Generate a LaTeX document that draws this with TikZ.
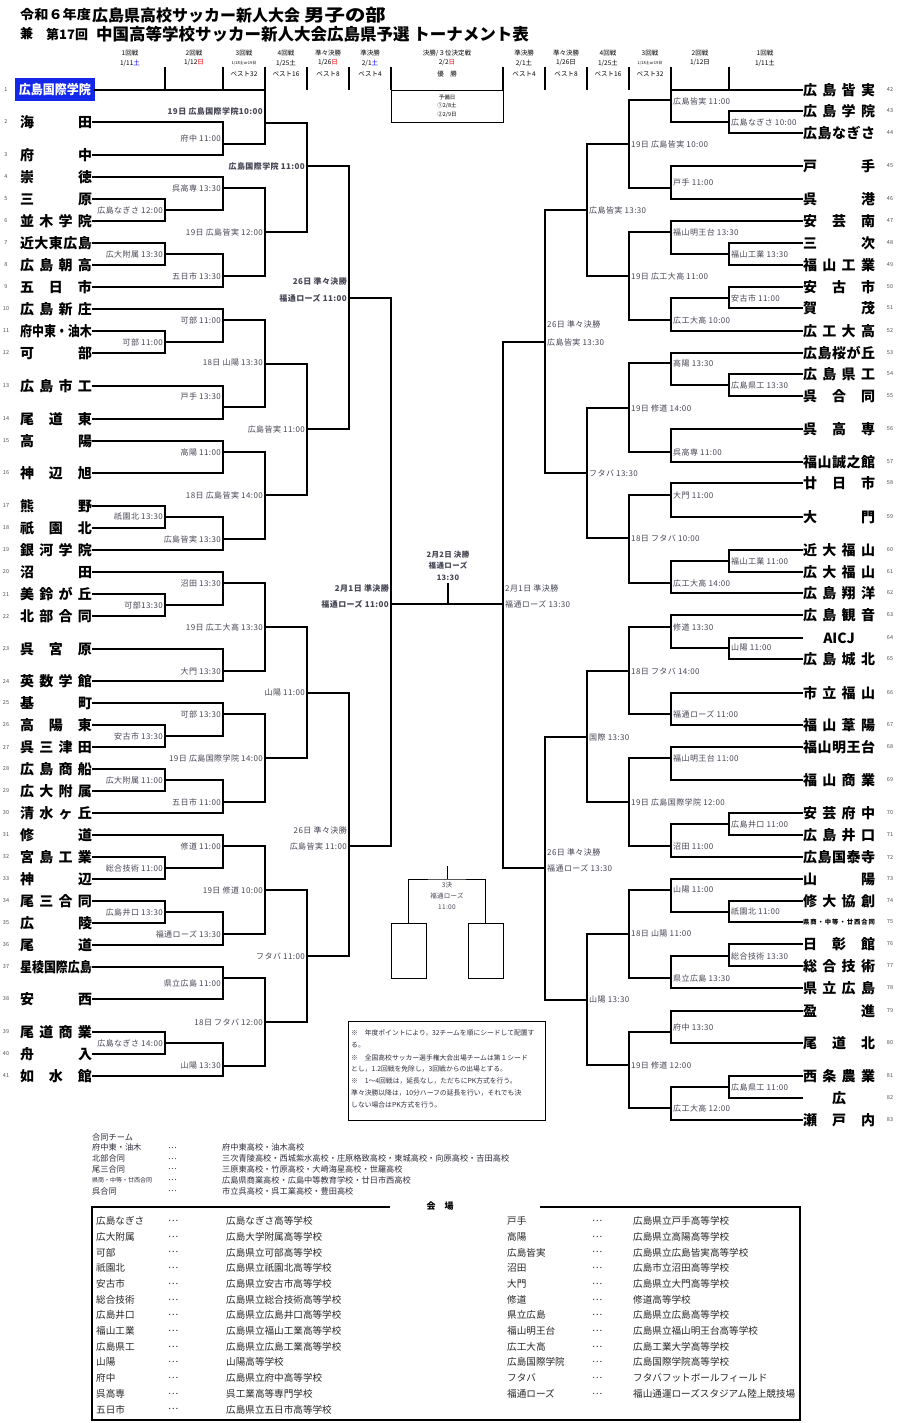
\documentclass[tikz,border=0pt]{standalone}
\usepackage{fontspec}
\usepackage{graphicx}
\setmainfont{Noto Sans CJK JP}
\newfontfamily\labf[LetterSpace=5]{Noto Sans CJK JP}
\definecolor{seedblue}{RGB}{20,40,235}
\definecolor{labgray}{RGB}{70,70,85}
\definecolor{numgray}{RGB}{80,80,90}
\definecolor{txtgray}{RGB}{45,45,60}
\makeatletter
\def\spreadit#1{\spr@a#1\relax}
\def\spr@a#1{#1\spr@b}
\def\spr@b#1{\ifx\relax#1\else\hfill#1\expandafter\spr@b\fi}
\makeatother
\newcommand\tname[1]{\sbox0{#1}\ifdim\wd0>72pt\relax\resizebox{72pt}{\height}{#1}\else\makebox[72pt][s]{\expandafter\spreadit\expandafter{#1}}\fi}
\newcommand\tnfont{\bfseries\fontsize{14}{14}\selectfont}
\tikzset{
  br/.style={line width=1.3pt, line join=miter, line cap=rect},
  lab/.style={font=\labf\fontsize{8}{9}\selectfont, text=labgray, inner sep=0.5pt},
  labL/.style={lab, anchor=east},
  labR/.style={lab, anchor=west},
  tnL/.style={anchor=east, inner xsep=1pt, inner ysep=0pt, outer sep=0pt, font=\tnfont},
  tnR/.style={anchor=west, inner xsep=1pt, inner ysep=0pt, outer sep=0pt, font=\tnfont},
  num/.style={font=\fontsize{5.5}{6}\selectfont, text=numgray, inner sep=0pt},
  hdr/.style={font=\fontsize{6.5}{7}\selectfont, inner sep=0pt},
  hline/.style={line width=1.2pt},
  ftx/.style={font=\fontsize{8.2}{9}\selectfont, text=txtgray, inner sep=0pt, anchor=west},
  vtx/.style={font=\fontsize{9.6}{10}\selectfont, text=black!85, inner sep=0pt, anchor=west},
  ntx/.style={font=\fontsize{6.8}{7}\selectfont, text=txtgray, inner sep=0pt, anchor=west},
}
% match: name, x, yout, input A, input B, label, label y
\newcommand\mL[7]{\coordinate (#1) at (#2,#3);
  \draw[br] (#4) -- (#4 -| #1) -- (#5 -| #1) -- (#5);
  \node[labL] (#1l) at ({#2-1.5},#7) {#6};}
\newcommand\mR[7]{\coordinate (#1) at (#2,#3);
  \draw[br] (#4) -- (#4 -| #1) -- (#5 -| #1) -- (#5);
  \node[labR] (#1l) at ({#2+1.5},#7) {#6};}
\begin{document}
\begin{tikzpicture}[x=1pt,y=-1pt]
\useasboundingbox (0,0) rectangle (897,1423);
\fill[white] (0,0) rectangle (897,1423);

% ---- title ----
\node[anchor=west, inner sep=0, font=\bfseries\fontsize{13}{13}\selectfont] (ti1a) at (20,15) {\scalebox{1.09}[1]{令和６年度}};
\node[anchor=west, inner sep=0, font=\bfseries\fontsize{16}{16}\selectfont] (ti1b) at (92,15) {広島県高校サッカー新人大会};
\node[anchor=west, inner sep=0, font=\bfseries\fontsize{17}{17}\selectfont] (ti1c) at (304,15) {\scalebox{1.2}[1]{男子の部}};
\node[anchor=west, inner sep=0, font=\bfseries\fontsize{13}{13}\selectfont] (ti2a) at (20,34) {兼};
\node[anchor=west, inner sep=0, font=\bfseries\fontsize{13}{13}\selectfont] (ti2b) at (46,34) {第17回};
\node[anchor=west, inner sep=0, font=\bfseries\fontsize{16.5}{16.5}\selectfont] (ti2c) at (96,34) {中国高等学校サッカー新人大会広島県予選 トーナメント表};

% ---- column headers ----
\node[hdr] (h1a) at (130,53) {1回戦};
\node[hdr] (h1b) at (130,63) {1/11\textcolor{blue}{土}};
\node[hdr] (h2a) at (194,53) {2回戦};
\node[hdr] (h2b) at (194,63) {1/12\textcolor{red}{日}};
\node[hdr] (h3a) at (244,53) {3回戦};
\node[hdr, font=\fontsize{4}{4}\selectfont] (h3b) at (244,63) {1/18土or19日};
\node[hdr] (h3c) at (244,74) {ベスト32};
\node[hdr] (h4a) at (286,53) {4回戦};
\node[hdr] (h4b) at (286,63) {1/25土};
\node[hdr] (h4c) at (286,74) {ベスト16};
\node[hdr] (h5a) at (328,53) {準々決勝};
\node[hdr] (h5b) at (328,63) {1/26\textcolor{red}{日}};
\node[hdr] (h5c) at (328,74) {ベスト8};
\node[hdr] (h6a) at (370,53) {準決勝};
\node[hdr] (h6b) at (370,63) {2/1\textcolor{blue}{土}};
\node[hdr] (h6c) at (370,74) {ベスト4};
\node[hdr] (h7a) at (447,53) {決勝/３位決定戦};
\node[hdr] (h7b) at (447,63) {2/2\textcolor{red}{日}};
\node[hdr] (h7c) at (447,74) {優　勝};
\node[hdr] (h8a) at (524,53) {準決勝};
\node[hdr] (h8b) at (524,63) {2/1土};
\node[hdr] (h8c) at (524,74) {ベスト4};
\node[hdr] (h9a) at (566,53) {準々決勝};
\node[hdr] (h9b) at (566,63) {1/26日};
\node[hdr] (h9c) at (566,74) {ベスト8};
\node[hdr] (h10a) at (608,53) {4回戦};
\node[hdr] (h10b) at (608,63) {1/25土};
\node[hdr] (h10c) at (608,74) {ベスト16};
\node[hdr] (h11a) at (650,53) {3回戦};
\node[hdr, font=\fontsize{4}{4}\selectfont] (h11b) at (650,63) {1/18土or19日};
\node[hdr] (h11c) at (650,74) {ベスト32};
\node[hdr] (h12a) at (700,53) {2回戦};
\node[hdr] (h12b) at (700,63) {1/12日};
\node[hdr] (h13a) at (765,53) {1回戦};
\node[hdr] (h13b) at (765,63) {1/11土};
\foreach \xx in {165,223,265,307,349,391,503,545,587,629,671,729}
  \draw[hline] (\xx,67) -- (\xx,90);
% reserve-day box
\node[draw, line width=1.2pt, minimum width=112pt, minimum height=32pt, inner sep=0, anchor=north west] (yobi) at (391,90) {};
\node[hdr, font=\fontsize{5.5}{6}\selectfont] (yb1) at (447,97) {予備日};
\node[hdr, font=\fontsize{5.5}{6}\selectfont] (yb2) at (447,106) {①2/8土};
\node[hdr, font=\fontsize{5.5}{6}\selectfont] (yb3) at (447,115) {②2/9日};

% ---- teams, left ----
\node[fill=seedblue, text=white, anchor=east, minimum width=80pt, minimum height=23pt, inner sep=0pt, font=\bfseries\fontsize{13}{13}\selectfont] (t1) at (95,90) {\resizebox{72pt}{\height}{広島国際学院}};
\node[num] (n1) at (6,90) {1};
\foreach \k/\yy/\nm in {2/122/海田, 3/155/府中, 4/177/崇徳, 5/199/三原, 6/221/並木学院, 7/243/近大東広島, 8/265/広島朝高, 9/287/五日市, 10/309/広島新庄, 11/331/府中東・油木, 12/353/可部, 13/386/広島市工, 14/419/尾道東, 15/441/高陽, 16/473/神辺旭, 17/506/熊野, 18/528/祇園北, 19/550/銀河学院, 20/572/沼田, 21/594/美鈴が丘, 22/616/北部合同, 23/649/呉宮原, 24/681/英数学館, 25/703/基町, 26/725/高陽東, 27/747/呉三津田, 28/769/広島商船, 29/791/広大附属, 30/813/清水ヶ丘, 31/835/修道, 32/857/宮島工業, 33/879/神辺, 34/901/尾三合同, 35/923/広陵, 36/945/尾道, 37/967/星稜国際広島, 38/999/安西, 39/1032/尾道商業, 40/1054/舟入, 41/1076/如水館}
{
  \node[tnL] (t\k) at (93,\yy) {\tname{\nm}};
  \node[num] (n\k) at (6,\yy) {\k};
}
% ---- teams, right ----
\foreach \k/\yy/\nm in {42/90/広島皆実, 43/111/広島学院, 44/133/広島なぎさ, 45/166/戸手, 46/199/呉港, 47/221/安芸南, 48/243/三次, 49/265/福山工業, 50/287/安古市, 51/308/賀茂, 52/331/広工大高, 53/353/広島桜が丘, 54/374/広島県工, 55/396/呉合同, 56/429/呉高専, 57/462/福山誠之館, 58/483/廿日市, 59/517/大門, 60/550/近大福山, 61/572/広大福山, 62/593/広島翔洋, 63/615/広島観音, 65/659/広島城北, 66/693/市立福山, 67/725/福山葦陽, 68/747/福山明王台, 69/780/福山商業, 70/813/安芸府中, 71/835/広島井口, 72/857/広島国泰寺, 73/879/山陽, 74/901/修大協創, 76/944/日彰館, 77/966/総合技術, 78/988/県立広島, 79/1011/盈進, 80/1043/尾道北, 81/1076/西条農業, 83/1120/瀬戸内}
{
  \node[tnR] (t\k) at (802,\yy) {\tname{\nm}};
  \node[num] (n\k) at (890,\yy) {\k};
}
\node[tnR] (t64) at (802,638) {\makebox[72pt]{AICJ}};
\node[num] (n64) at (890,638) {64};
\node[tnR, font=\bfseries\fontsize{6.3}{7}\selectfont] (t75) at (802,922) {\makebox[72pt][s]{\spreadit{県商・中等・廿西合同}}};
\node[num] (n75) at (890,922) {75};
\node[tnR] (t82) at (802,1098) {\makebox[72pt]{広}};
\node[num] (n82) at (890,1098) {82};

% ---- left bracket ----
\mL{L1a}{165}{210}{t5.east}{t6.east}{広島なぎさ 12:00}{210}
\mL{L1b}{165}{254}{t7.east}{t8.east}{広大附属 13:30}{254}
\mL{L1c}{165}{342}{t11.east}{t12.east}{可部 11:00}{342}
\mL{L1d}{165}{517}{t17.east}{t18.east}{祇園北 13:30}{517}
\mL{L1e}{165}{605}{t21.east}{t22.east}{可部13:30}{605}
\mL{L1f}{165}{736}{t26.east}{t27.east}{安古市 13:30}{736}
\mL{L1g}{165}{780}{t28.east}{t29.east}{広大附属 11:00}{780}
\mL{L1h}{165}{868}{t32.east}{t33.east}{総合技術 11:00}{868}
\mL{L1i}{165}{912}{t34.east}{t35.east}{広島井口 13:30}{912}
\mL{L1j}{165}{1043}{t39.east}{t40.east}{広島なぎさ 14:00}{1043}

\mL{L2a}{223}{144}{t2.east}{t3.east}{府中 11:00}{138}
\mL{L2b}{223}{188}{t4.east}{L1a}{呉高専 13:30}{188}
\mL{L2c}{223}{276}{L1b}{t9.east}{五日市 13:30}{276}
\mL{L2d}{223}{320}{t10.east}{L1c}{可部 11:00}{320}
\mL{L2e}{223}{407}{t13.east}{t14.east}{戸手 13:30}{396}
\mL{L2f}{223}{452}{t15.east}{t16.east}{高陽 11:00}{452}
\mL{L2g}{223}{539}{L1d}{t19.east}{広島皆実 13:30}{539}
\mL{L2h}{223}{583}{t20.east}{L1e}{沼田 13:30}{583}
\mL{L2i}{223}{671}{t23.east}{t24.east}{大門 13:30}{671}
\mL{L2j}{223}{714}{t25.east}{L1f}{可部 13:30}{714}
\mL{L2k}{223}{802}{L1g}{t30.east}{五日市 11:00}{802}
\mL{L2l}{223}{846}{t31.east}{L1h}{修道 11:00}{846}
\mL{L2m}{223}{934}{L1i}{t36.east}{福通ローズ 13:30}{934}
\mL{L2n}{223}{978}{t37.east}{t38.east}{県立広島 11:00}{983}
\mL{L2o}{223}{1066}{L1j}{t41.east}{山陽 13:30}{1066}

\mL{L3a}{265}{123}{t1.east}{L2a}{\bfseries 19日 広島国際学院10:00}{111}
\mL{L3b}{265}{232}{L2b}{L2c}{19日 広島皆実 12:00}{232}
\mL{L3c}{265}{364}{L2d}{L2e}{18日 山陽 13:30}{363}
\mL{L3d}{265}{495}{L2f}{L2g}{18日 広島皆実 14:00}{495}
\mL{L3e}{265}{627}{L2h}{L2i}{19日 広工大高 13:30}{627}
\mL{L3f}{265}{758}{L2j}{L2k}{19日 広島国際学院 14:00}{758}
\mL{L3g}{265}{890}{L2l}{L2m}{19日 修道 10:00}{890}
\mL{L3h}{265}{1022}{L2n}{L2o}{18日 フタバ 12:00}{1022}

\mL{L4a}{307}{166}{L3a}{L3b}{\bfseries 広島国際学院 11:00}{166}
\mL{L4b}{307}{429}{L3c}{L3d}{広島皆実 11:00}{429}
\mL{L4c}{307}{693}{L3e}{L3f}{山陽 11:00}{693}
\mL{L4d}{307}{956}{L3g}{L3h}{フタバ 11:00}{956}

\mL{L5a}{349}{298}{L4a}{L4b}{\bfseries 福通ローズ 11:00}{298}
\node[labL] (L5at) at (347.5,281) {\bfseries 26日 準々決勝};
\mL{L5b}{349}{846}{L4c}{L4d}{広島皆実 11:00}{846}
\node[labL] (L5bt) at (347.5,830) {26日 準々決勝};

\mL{L6}{391}{604}{L5a}{L5b}{\bfseries 福通ローズ 11:00}{604}
\node[labL] (L6t) at (389.5,588) {\bfseries 2月1日 準決勝};

% ---- right bracket ----
\mR{R1a}{729}{122}{t43.west}{t44.west}{広島なぎさ 10:00}{122}
\mR{R1b}{729}{254}{t48.west}{t49.west}{福山工業 13:30}{254}
\mR{R1c}{729}{298}{t50.west}{t51.west}{安古市 11:00}{298}
\mR{R1d}{729}{385}{t54.west}{t55.west}{広島県工 13:30}{385}
\mR{R1e}{729}{561}{t60.west}{t61.west}{福山工業 11:00}{561}
\mR{R1f}{729}{648}{t64.west}{t65.west}{山陽 11:00}{648}
\mR{R1g}{729}{824}{t70.west}{t71.west}{広島井口 11:00}{824}
\mR{R1h}{729}{912}{t74.west}{t75.west}{祇園北 11:00}{912}
\mR{R1i}{729}{956}{t76.west}{t77.west}{総合技術 13:30}{956}
\mR{R1j}{729}{1087}{t81.west}{t82.west}{広島県工 11:00}{1087}

\mR{R2a}{671}{100}{t42.west}{R1a}{広島皆実 11:00}{101}
\mR{R2b}{671}{188}{t45.west}{t46.west}{戸手 11:00}{182}
\mR{R2c}{671}{232}{t47.west}{R1b}{福山明王台 13:30}{232}
\mR{R2d}{671}{320}{R1c}{t52.west}{広工大高 10:00}{320}
\mR{R2e}{671}{363}{t53.west}{R1d}{高陽 13:30}{363}
\mR{R2f}{671}{452}{t56.west}{t57.west}{呉高専 11:00}{452}
\mR{R2g}{671}{495}{t58.west}{t59.west}{大門 11:00}{495}
\mR{R2h}{671}{583}{R1e}{t62.west}{広工大高 14:00}{583}
\mR{R2i}{671}{627}{t63.west}{R1f}{修道 13:30}{627}
\mR{R2j}{671}{714}{t66.west}{t67.west}{福通ローズ 11:00}{714}
\mR{R2k}{671}{758}{t68.west}{t69.west}{福山明王台 11:00}{758}
\mR{R2l}{671}{846}{R1g}{t72.west}{沼田 11:00}{846}
\mR{R2m}{671}{890}{t73.west}{R1h}{山陽 11:00}{890}
\mR{R2n}{671}{978}{R1i}{t78.west}{県立広島 13:30}{978}
\mR{R2o}{671}{1032}{t79.west}{t80.west}{府中 13:30}{1027}
\mR{R2p}{671}{1108}{R1j}{t83.west}{広工大高 12:00}{1108}

\mR{R3a}{629}{144}{R2a}{R2b}{19日 広島皆実 10:00}{144}
\mR{R3b}{629}{276}{R2c}{R2d}{19日 広工大高 11:00}{276}
\mR{R3c}{629}{408}{R2e}{R2f}{19日 修道 14:00}{408}
\mR{R3d}{629}{538}{R2g}{R2h}{18日 フタバ 10:00}{538}
\mR{R3e}{629}{671}{R2i}{R2j}{18日 フタバ 14:00}{671}
\mR{R3f}{629}{802}{R2k}{R2l}{19日 広島国際学院 12:00}{802}
\mR{R3g}{629}{934}{R2m}{R2n}{18日 山陽 11:00}{934}
\mR{R3h}{629}{1065}{R2o}{R2p}{19日 修道 12:00}{1065}

\mR{R4a}{587}{210}{R3a}{R3b}{広島皆実 13:30}{210}
\mR{R4b}{587}{473}{R3c}{R3d}{フタバ 13:30}{473}
\mR{R4c}{587}{737}{R3e}{R3f}{国際 13:30}{737}
\mR{R4d}{587}{1000}{R3g}{R3h}{山陽 13:30}{1000}

\mR{R5a}{545}{342}{R4a}{R4b}{広島皆実 13:30}{342}
\node[labR] (R5at) at (546.5,324) {26日 準々決勝};
\mR{R5b}{545}{868}{R4c}{R4d}{福通ローズ 13:30}{868}
\node[labR] (R5bt) at (546.5,852) {26日 準々決勝};

\mR{R6}{503}{604}{R5a}{R5b}{福通ローズ 13:30}{604}
\node[labR] (R6t) at (504.5,588) {2月1日 準決勝};

% ---- final ----
\draw[br] (L6) -- (R6);
\coordinate (fin) at (448,584);
\draw[br] (fin) -- (fin |- L6);
\node[lab, font=\labf\bfseries\fontsize{7.5}{8}\selectfont] (f1) at (448,555) {2月2日 決勝};
\node[lab, font=\labf\bfseries\fontsize{7.5}{8}\selectfont] (f2) at (448,566) {福通ローズ};
\node[lab, font=\labf\bfseries\fontsize{7.5}{8}\selectfont] (f3) at (448,578) {13:30};

% ---- third place ----
\node[draw, line width=1pt, minimum width=35pt, minimum height=55pt, inner sep=0] (b3L) at (408.5,950.5) {};
\node[draw, line width=1pt, minimum width=35pt, minimum height=55pt, inner sep=0] (b3R) at (485.5,950.5) {};
\coordinate (tp) at (447,866);
\coordinate (tpm) at (447,879);
\draw[line width=1pt] (tp) -- (tpm);
\draw[line width=1pt] (b3L.north) |- (tpm) -| (b3R.north);
\node[lab, font=\labf\fontsize{6.5}{7}\selectfont] (tp1) at (447,885) {3決};
\node[lab, font=\labf\fontsize{6.5}{7}\selectfont] (tp2) at (447,896) {福通ローズ};
\node[lab, font=\labf\fontsize{6.5}{7}\selectfont] (tp3) at (447,907) {11:00};

% ---- note box ----
\node[draw, line width=1.1pt, minimum width=197pt, minimum height=99pt, inner sep=0, anchor=north west] (notebox) at (348,1021) {};
\node[ntx] (nt1) at (351,1033) {※　年度ポイントにより，32チームを順にシードして配置す};
\node[ntx] (nt2) at (351,1045) {る。};
\node[ntx] (nt3) at (351,1058) {※　全国高校サッカー選手権大会出場チームは第１シード};
\node[ntx] (nt4) at (351,1069) {とし，1.2回戦を免除し，3回戦からの出場とする。};
\node[ntx] (nt5) at (351,1081) {※　1～4回戦は，延長なし，ただちにPK方式を行う。};
\node[ntx] (nt6) at (351,1093) {準々決勝以降は，10分ハーフの延長を行い，それでも決};
\node[ntx] (nt7) at (351,1105) {しない場合はPK方式を行う。};

% ---- joint teams ----
\node[ftx] (g0) at (92,1137) {合同チーム};
\foreach \k/\aa/\bb in {1/府中東・油木/府中東高校・油木高校, 2/北部合同/三次青陵高校・西城紫水高校・庄原格致高校・東城高校・向原高校・吉田高校, 3/尾三合同/三原東高校・竹原高校・大崎海星高校・世羅高校, 5/呉合同/市立呉高校・呉工業高校・豊田高校}
{
  \node[ftx] (ga\k) at (92,{1137+10.8*\k}) {\aa};
  \node[ftx] (gd\k) at (168,{1137+10.8*\k}) {…};
  \node[ftx] (gb\k) at (222,{1137+10.8*\k}) {\bb};
}
\node[ftx, font=\fontsize{6}{7}\selectfont] (ga4) at (92,1180.2) {県商・中等・廿西合同};
\node[ftx] (gd4) at (168,1180.2) {…};
\node[ftx] (gb4) at (222,1180.2) {広島県商業高校・広島中等教育学校・廿日市西高校};

% ---- venues ----
\draw[line width=1.2pt] (390,1207) -- (92,1207) -- (92,1420) -- (800,1420) -- (800,1207) -- (540,1207);
\node[inner sep=0, font=\bfseries\fontsize{9}{9}\selectfont] (vtitle) at (440,1206) {会　場};
\foreach \k/\aa/\bb in {0/広島なぎさ/広島なぎさ高等学校, 1/広大附属/広島大学附属高等学校, 2/可部/広島県立可部高等学校, 3/祇園北/広島県立祇園北高等学校, 4/安古市/広島県立安古市高等学校, 5/総合技術/広島県立総合技術高等学校, 6/広島井口/広島県立広島井口高等学校, 7/福山工業/広島県立福山工業高等学校, 8/広島県工/広島県立広島工業高等学校, 9/山陽/山陽高等学校, 10/府中/広島県立府中高等学校, 11/呉高専/呉工業高等専門学校, 12/五日市/広島県立五日市高等学校}
{
  \node[vtx] (va\k) at (96,{1221+15.7*\k}) {\aa};
  \node[vtx] (vd\k) at (168,{1221+15.7*\k}) {…};
  \node[vtx] (vb\k) at (226,{1221+15.7*\k}) {\bb};
}
\foreach \k/\aa/\bb in {0/戸手/広島県立戸手高等学校, 1/高陽/広島県立高陽高等学校, 2/広島皆実/広島県立広島皆実高等学校, 3/沼田/広島市立沼田高等学校, 4/大門/広島県立大門高等学校, 5/修道/修道高等学校, 6/県立広島/広島県立広島高等学校, 7/福山明王台/広島県立福山明王台高等学校, 8/広工大高/広島工業大学高等学校, 9/広島国際学院/広島国際学院高等学校, 10/フタバ/フタバフットボールフィールド, 11/福通ローズ/福山通運ローズスタジアム陸上競技場}
{
  \node[vtx] (wa\k) at (507,{1221+15.7*\k}) {\aa};
  \node[vtx] (wd\k) at (592,{1221+15.7*\k}) {…};
  \node[vtx] (wb\k) at (633,{1221+15.7*\k}) {\bb};
}
\end{tikzpicture}
\end{document}
